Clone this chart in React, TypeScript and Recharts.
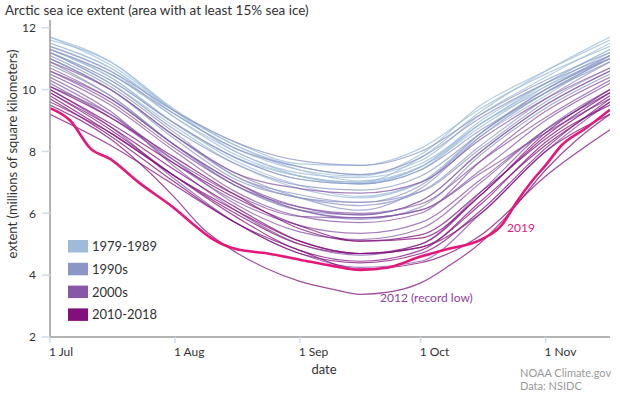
import React from "react";
import { LineChart, Line, XAxis, YAxis } from "recharts";

// sample days counted from 1 Jul (Jul 1, Jul 16, Aug 1, Aug 16, Sep 1, Sep 16, Oct 1, Oct 16, Nov 1, Nov 17)
const days = [0, 15, 31, 46, 62, 77, 92, 107, 123, 139];

const extents: Record<string, number[]> = {
  "1979": [11.3, 10.5, 9.1, 8.0, 7.2, 6.95, 7.5, 8.9, 10.1, 11.0],
  "1980": [11.5, 10.7, 9.3, 8.3, 7.6, 7.55, 8.1, 9.4, 10.5, 11.4],
  "1981": [11.2, 10.3, 8.9, 7.8, 7.1, 6.95, 7.4, 8.9, 10.0, 11.1],
  "1982": [11.6, 10.9, 9.35, 8.2, 7.5, 7.25, 7.7, 9.2, 10.4, 11.5],
  "1983": [11.5, 10.7, 9.2, 8.1, 7.4, 7.2, 7.9, 9.5, 10.6, 11.6],
  "1984": [11.2, 10.2, 8.8, 7.6, 6.8, 6.5, 7.0, 8.6, 9.9, 11.0],
  "1985": [11.3, 10.4, 8.9, 7.7, 6.9, 6.55, 7.0, 8.5, 9.8, 11.1],
  "1986": [11.7, 10.8, 9.3, 8.0, 7.3, 7.15, 7.6, 8.9, 10.2, 11.3],
  "1987": [11.4, 10.6, 9.1, 7.9, 7.2, 7.0, 7.8, 9.3, 10.6, 11.7],
  "1988": [11.7, 10.9, 9.3, 8.2, 7.4, 7.05, 7.5, 8.8, 10.1, 11.2],
  "1989": [11.3, 10.4, 8.9, 7.8, 7.2, 7.0, 7.5, 9.0, 10.2, 11.3],
  "1990": [11.0, 10.0, 8.5, 7.3, 6.5, 6.1, 6.8, 8.5, 9.9, 11.0],
  "1991": [11.1, 10.1, 8.6, 7.2, 6.6, 6.35, 6.9, 8.6, 10.0, 11.1],
  "1992": [11.3, 10.5, 9.2, 8.1, 7.5, 7.25, 7.8, 9.1, 10.2, 11.1],
  "1993": [11.0, 10.0, 8.4, 7.1, 6.5, 6.25, 6.7, 8.2, 9.7, 10.9],
  "1994": [11.2, 10.3, 8.9, 7.8, 7.1, 6.95, 7.4, 8.7, 9.9, 10.9],
  "1995": [10.8, 9.8, 8.2, 6.9, 6.1, 5.95, 6.4, 8.0, 9.5, 10.6],
  "1996": [11.4, 10.6, 9.3, 8.3, 7.7, 7.55, 8.0, 9.2, 10.3, 11.2],
  "1997": [11.2, 10.2, 8.7, 7.6, 6.9, 6.75, 7.2, 8.6, 10.0, 11.0],
  "1998": [11.0, 10.0, 8.5, 7.2, 6.5, 6.35, 6.7, 8.1, 9.6, 10.7],
  "1999": [10.9, 9.8, 8.2, 6.9, 6.1, 5.8, 6.2, 7.9, 9.4, 10.5],
  "2000": [10.7, 9.7, 8.2, 7.0, 6.2, 5.95, 6.4, 8.0, 9.5, 10.6],
  "2001": [10.9, 10.0, 8.5, 7.3, 6.8, 6.65, 7.0, 8.4, 9.7, 10.7],
  "2002": [10.5, 9.5, 8.0, 6.7, 5.9, 5.7, 6.0, 7.7, 9.3, 10.4],
  "2003": [10.6, 9.6, 8.1, 6.9, 6.2, 6.0, 6.3, 7.7, 9.1, 10.3],
  "2004": [10.6, 9.7, 8.2, 7.0, 6.1, 5.85, 6.1, 7.4, 9.0, 10.2],
  "2005": [10.3, 9.2, 7.6, 6.4, 5.6, 5.35, 5.7, 7.1, 8.7, 9.9],
  "2006": [10.2, 9.1, 7.7, 6.6, 5.9, 5.85, 6.1, 7.3, 8.6, 9.7],
  "2007": [10.0, 8.8, 7.1, 5.7, 4.7, 4.25, 4.45, 6.0, 8.0, 9.6],
  "2008": [10.4, 9.3, 7.5, 6.1, 5.0, 4.65, 5.0, 6.7, 8.7, 10.0],
  "2009": [10.1, 9.2, 7.7, 6.3, 5.4, 5.15, 5.5, 7.0, 8.7, 9.9],
  "2010": [9.6, 8.6, 7.2, 6.1, 5.1, 4.7, 5.0, 6.6, 8.5, 9.9],
  "2011": [9.2, 8.2, 6.9, 5.7, 4.7, 4.4, 4.7, 6.1, 8.1, 9.7],
  "2013": [10.0, 8.9, 7.6, 6.5, 5.6, 5.1, 5.3, 6.7, 8.4, 9.8],
  "2014": [10.1, 9.1, 7.8, 6.6, 5.5, 5.1, 5.2, 6.6, 8.6, 10.0],
  "2015": [9.9, 8.7, 7.2, 5.9, 4.8, 4.45, 4.8, 6.4, 8.2, 9.6],
  "2016": [9.7, 8.5, 7.0, 5.7, 4.8, 4.2, 4.4, 5.3, 7.2, 8.7],
  "2017": [9.8, 8.6, 7.2, 6.0, 5.0, 4.7, 4.9, 6.3, 8.3, 9.5],
  "2018": [9.9, 8.8, 7.4, 6.2, 5.1, 4.7, 4.9, 6.0, 8.0, 9.2],
};

// the two labelled years, read on a finer grid
const days2012 = [0, 15, 31, 38, 46, 54, 62, 70, 77, 84, 92, 99, 106, 114, 123, 131, 139];
const ext2012 = [9.5, 8.4, 6.5, 5.5, 4.75, 4.2, 3.8, 3.55, 3.38, 3.45, 3.75, 4.3, 4.95, 6.0, 7.4, 8.4, 9.2];

const days2019 = [0, 5, 10, 15, 22, 31, 36, 40, 46, 54, 62, 70, 77, 84, 92, 99, 107, 112, 116, 120, 123, 127, 133, 139];
const ext2019 = [9.4, 9.0, 8.1, 7.75, 7.0, 6.15, 5.6, 5.2, 4.85, 4.7, 4.5, 4.3, 4.17, 4.25, 4.6, 4.85, 5.15, 5.6, 6.4, 7.1, 7.55, 8.2, 8.75, 9.35];

const monthTicks = [0, 31, 62, 92, 123];
const monthLabels = ["1 Jul", "1 Aug", "1 Sep", "1 Oct", "1 Nov"];
const yTicks = [2, 4, 6, 8, 10, 12];

const decades = [
  { label: "1979-1989", color: "#9ebcda" },
  { label: "1990s", color: "#8c96c6" },
  { label: "2000s", color: "#8856a7" },
  { label: "2010-2018", color: "#810f7c" },
];

const colorFor = (year: number) =>
  year < 1990 ? decades[0].color : year < 2000 ? decades[1].color : year < 2010 ? decades[2].color : decades[3].color;

const toRows = (d: number[], v: number[]) => d.map((day, i) => ({ day, v: v[i] }));

const font = "Lato, 'Open Sans', sans-serif";

const XTick = (props: any) => {
  const { x, y, payload } = props;
  const i = monthTicks.indexOf(payload.value);
  return (
    <text x={x - 1} y={y + 11} fontSize={12} fill="#333" fontFamily={font} textAnchor="start">
      {monthLabels[i]}
    </text>
  );
};

export default function App() {
  const years = Object.keys(extents);
  return (
    <div style={{ position: "absolute", left: 0, top: 0, width: 620, height: 393, background: "#fff" }}>
      <LineChart width={620} height={393} margin={{ top: 20, right: 10, left: 10, bottom: 26 }}>
        <XAxis
          type="number"
          dataKey="day"
          domain={[0, 139]}
          ticks={monthTicks}
          tick={<XTick />}
          tickSize={6}
          axisLine={{ stroke: "#9a9a9a", strokeWidth: 1.5 }}
          tickLine={{ stroke: "#cfdcec", strokeWidth: 1.5 }}
          height={30}
          allowDataOverflow
        />
        <YAxis
          type="number"
          domain={[2, 12.25]}
          ticks={yTicks}
          width={40}
          tickSize={8}
          tickMargin={6}
          tick={{ fontSize: 12, fill: "#333", fontFamily: font }}
          axisLine={{ stroke: "#9a9a9a", strokeWidth: 1.5 }}
          tickLine={{ stroke: "#cfdcec", strokeWidth: 1.5 }}
          allowDataOverflow
        />
        {years.map((y) => (
          <Line
            key={y}
            data={toRows(days, extents[y])}
            dataKey="v"
            type="monotone"
            stroke={colorFor(Number(y))}
            strokeWidth={1.2}
            strokeOpacity={0.75}
            dot={false}
            isAnimationActive={false}
          />
        ))}
        <Line
          data={toRows(days2012, ext2012)}
          dataKey="v"
          type="monotone"
          stroke={colorFor(2012)}
          strokeWidth={1.2}
          strokeOpacity={0.75}
          dot={false}
          isAnimationActive={false}
        />
        <Line
          data={toRows(days2019, ext2019)}
          dataKey="v"
          type="monotone"
          stroke="#e6177b"
          strokeWidth={2.6}
          dot={false}
          isAnimationActive={false}
        />
      </LineChart>
      <svg width={620} height={393} style={{ position: "absolute", left: 0, top: 0, pointerEvents: "none" }} fontFamily={font}>
        <text x={5} y={15} fontSize={13.5} fill="#333">
          Arctic sea ice extent (area with at least 15% sea ice)
        </text>
        <text transform="translate(17,154) rotate(-90)" fontSize={13} fill="#333" textAnchor="middle">
          extent (millions of square kilometers)
        </text>
        <text x={324} y={374} fontSize={13} fill="#333" textAnchor="middle">
          date
        </text>
        {decades.map((d, i) => (
          <g key={d.label}>
            <rect x={68} y={240 + i * 22.8} width={20} height={12.5} fill={d.color} />
            <text x={92} y={251 + i * 22.8} fontSize={13} fill="#333">
              {d.label}
            </text>
          </g>
        ))}
        <text x={507} y={232} fontSize={12} fill="#e6177b">
          2019
        </text>
        <text x={380} y={302} fontSize={12} fill="#8f3f9c">
          2012 (record low)
        </text>
        <text x={520} y={377} fontSize={11} fill="#9a9a9a">
          NOAA Climate.gov
        </text>
        <text x={520} y={390} fontSize={11} fill="#9a9a9a">
          Data: NSIDC
        </text>
      </svg>
    </div>
  );
}
